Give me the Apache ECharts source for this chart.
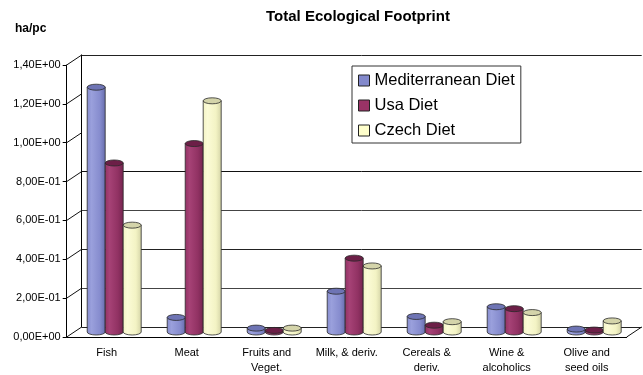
<!DOCTYPE html>
<html>
<head>
<meta charset="utf-8">
<title>Total Ecological Footprint</title>
<script src="https://cdn.jsdelivr.net/npm/echarts/dist/echarts.min.js"></script>
<style>
  html, body { margin: 0; padding: 0; background: #fff; }
  #chart { width: 643px; height: 375px; }
</style>
</head>
<body>
<div id="chart"></div>
<script>
// Food categories on the horizontal axis
const categories = ['Fish', 'Meat', 'Fruits and\nVeget.', 'Milk, & deriv.', 'Cereals &\nderiv.', 'Wine &\nalcoholics', 'Olive and\nseed oils'];
// Ecological footprint per diet, ha per capita
const mediterranean = [1.26, 0.075, 0.02, 0.21, 0.08, 0.13, 0.015];
const usa = [0.87, 0.97, 0.008, 0.38, 0.035, 0.12, 0.01];
const czech = [0.55, 1.19, 0.02, 0.34, 0.053, 0.10, 0.057];
// Vertical axis ticks and their printed labels
const yTicks = [0, 0.2, 0.4, 0.6, 0.8, 1.0, 1.2, 1.4];
const yTickLabels = ['0,00E+00', '2,00E-01', '4,00E-01', '6,00E-01', '8,00E-01', '1,00E+00', '1,20E+00', '1,40E+00'];

const FONT = '"Liberation Sans", Arial, Helvetica, sans-serif';
const DX = 15, DY = 10;          // depth of the 3D box
const BAR_RATIO = 0.225;         // cylinder width relative to a category slot
const RY = 3;                    // vertical radius of cylinder ends

const palette = [
  { legend: '#8389cc', top: '#6e74b4', stops: ['#9aa0dc', '#868cce', '#666cac'] },
  { legend: '#993366', top: '#6c1f47', stops: ['#a64276', '#913263', '#73244e'] },
  { legend: '#ffffcc', top: '#d4d4aa', stops: ['#fbfbd6', '#f3f3c4', '#d3d3a6'] }
];

function cylinderSeries(name, values, k) {
  const c = palette[k];
  return {
    name: name,
    type: 'custom',
    xAxisIndex: 1,
    yAxisIndex: 1,
    z: 3,
    itemStyle: { color: c.legend },
    data: values.map((v, i) => [i, v]),
    renderItem: function (params, api) {
      const i = api.value(0), v = api.value(1);
      const top = api.coord([i, v]);
      const base = api.coord([i, 0]);
      const bw = api.size([1, 0])[0] * BAR_RATIO;
      const cx = top[0] + (k - 1) * bw;
      const xl = cx - bw / 2, xr = cx + bw / 2, rx = bw / 2;
      const yt = top[1], yb = base[1];
      const body = 'M' + xl + ',' + yt + ' L' + xl + ',' + yb +
        ' A' + rx + ',' + RY + ' 0 0 0 ' + xr + ',' + yb +
        ' L' + xr + ',' + yt + ' Z';
      const cap = 'M' + xl + ',' + yt +
        ' A' + rx + ',' + RY + ' 0 0 0 ' + xr + ',' + yt +
        ' A' + rx + ',' + RY + ' 0 0 0 ' + xl + ',' + yt + ' Z';
      return {
        type: 'group',
        children: [
          {
            type: 'path',
            shape: { pathData: body },
            style: {
              fill: {
                type: 'linear', x: 0, y: 0, x2: 1, y2: 0,
                colorStops: [
                  { offset: 0, color: c.stops[1] },
                  { offset: 0.25, color: c.stops[0] },
                  { offset: 0.7, color: c.stops[1] },
                  { offset: 1, color: c.stops[2] }
                ]
              },
              stroke: '#2a2a2a',
              lineWidth: 0.8
            }
          },
          {
            type: 'path',
            shape: { pathData: cap },
            style: { fill: c.top, stroke: '#2a2a2a', lineWidth: 0.8 }
          }
        ]
      };
    }
  };
}

const chart = echarts.init(document.getElementById('chart'), null, { renderer: 'canvas' });

chart.setOption({
  animation: false,
  backgroundColor: '#ffffff',
  title: [
    {
      text: 'Total Ecological Footprint',
      left: 266, top: 8, padding: 0,
      textStyle: { fontFamily: FONT, fontSize: 15, fontWeight: 'bold', color: '#000', lineHeight: 18 }
    },
    {
      text: 'ha/pc',
      left: 15, top: 22, padding: 0,
      textStyle: { fontFamily: FONT, fontSize: 12, fontWeight: 'bold', color: '#000', lineHeight: 14 }
    }
  ],
  legend: {
    data: ['Mediterranean Diet', 'Usa Diet', 'Czech Diet'],
    orient: 'vertical',
    left: 352, top: 66,
    padding: [5, 6, 3, 6],
    itemWidth: 11, itemHeight: 11, itemGap: 6,
    icon: 'rect',
    backgroundColor: '#fff',
    borderColor: '#333', borderWidth: 1,
    itemStyle: { borderColor: '#222', borderWidth: 1 },
    textStyle: { fontFamily: FONT, fontSize: 16.5, lineHeight: 19, color: '#000', padding: [0, 0, 0, 0] },
    z: 10
  },
  grid: [
    // back wall
    { left: 66.7 + DX, top: 65 - DY, width: 560, height: 272, outerBoundsMode: 'none' },
    // mid-depth plane where the cylinders stand
    { left: 66.7 + DX / 2, top: 65 - DY / 2, width: 560, height: 272, outerBoundsMode: 'none' },
    // front edge carrying the axes
    { left: 66.7, top: 65, width: 560, height: 272, outerBoundsMode: 'none' }
  ],
  xAxis: [
    { type: 'category', gridIndex: 0, data: categories, show: false },
    { type: 'category', gridIndex: 1, data: categories, show: false },
    {
      type: 'category', gridIndex: 2, data: categories,
      axisLine: { lineStyle: { color: '#000', width: 1 } },
      axisTick: { length: 4, interval: 0, lineStyle: { color: '#000' } },
      axisLabel: { interval: 0, margin: 8, fontFamily: FONT, fontSize: 11, lineHeight: 15.5, color: '#000' },
      splitLine: { show: false }
    }
  ],
  yAxis: [
    {
      type: 'value', gridIndex: 0, min: 0, max: 1.4, interval: 0.2,
      axisLine: { show: true, lineStyle: { color: '#000', width: 1 } },
      axisTick: { show: false },
      axisLabel: { show: false },
      splitLine: {
        show: true,
        lineStyle: {
          color: ['#222', '#444', '#222', '#444', '#111', 'rgba(0,0,0,0)', 'rgba(0,0,0,0)', '#222'],
          width: 1
        }
      }
    },
    { type: 'value', gridIndex: 1, min: 0, max: 1.4, interval: 0.2, show: false, splitLine: { show: false } },
    {
      type: 'value', gridIndex: 2, min: 0, max: 1.4, interval: 0.2,
      axisLine: { show: true, lineStyle: { color: '#000', width: 1 } },
      axisTick: { show: true, length: 4, lineStyle: { color: '#000' } },
      axisLabel: {
        margin: 6, fontFamily: FONT, fontSize: 11, color: '#000',
        formatter: function (v) {
          const idx = yTicks.findIndex(t => Math.abs(t - v) < 1e-9);
          return idx >= 0 ? yTickLabels[idx] : '';
        }
      },
      splitLine: { show: false }
    }
  ],
  series: [
    // side wall / floor edges joining the front axis to the back wall
    {
      name: 'edges',
      type: 'custom',
      xAxisIndex: 2,
      yAxisIndex: 2,
      z: 1,
      silent: true,
      data: yTicks.map(v => [0, v]),
      renderItem: function (params, api) {
        const v = api.value(1);
        const p = api.coord([0, v]);
        const w = api.size([1, 0])[0];
        const x0 = p[0] - w / 2;
        const children = [{
          type: 'line',
          shape: { x1: x0, y1: p[1], x2: x0 + DX, y2: p[1] - DY },
          style: { stroke: '#111', lineWidth: 1 }
        }];
        if (v === 0) {
          const x1 = x0 + w * categories.length;
          children.push({
            type: 'line',
            shape: { x1: x1, y1: p[1], x2: x1 + DX, y2: p[1] - DY },
            style: { stroke: '#111', lineWidth: 1 }
          });
        }
        return { type: 'group', children: children };
      }
    },
    cylinderSeries('Mediterranean Diet', mediterranean, 0),
    cylinderSeries('Usa Diet', usa, 1),
    cylinderSeries('Czech Diet', czech, 2)
  ]
});
</script>
</body>
</html>
